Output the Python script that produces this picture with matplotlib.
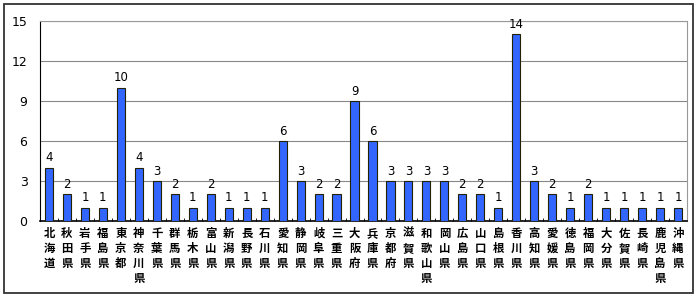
import matplotlib.pyplot as plt
from matplotlib.patches import Rectangle
import numpy as np

plt.rcParams['font.family'] = ['Noto Sans CJK JP', 'DejaVu Sans']

# prefectures and counts
prefectures = ['北海道', '秋田県', '岩手県', '福島県', '東京都', '神奈川県', '千葉県', '群馬県',
               '栃木県', '富山県', '新潟県', '長野県', '石川県', '愛知県', '静岡県', '岐阜県',
               '三重県', '大阪府', '兵庫県', '京都府', '滋賀県', '和歌山県', '岡山県', '広島県',
               '山口県', '島根県', '香川県', '高知県', '愛媛県', '徳島県', '福岡県', '大分県',
               '佐賀県', '長崎県', '鹿児島県', '沖縄県']
counts = [4, 2, 1, 1, 10, 4, 3, 2, 1, 2, 1, 1, 1, 6, 3, 2, 2, 9, 6, 3, 3, 3, 3, 2, 2, 1,
          14, 3, 2, 1, 2, 1, 1, 1, 1, 1]
yticks = [0, 3, 6, 9, 12, 15]

fig = plt.figure(figsize=(7, 2.99), dpi=100)
ax = fig.add_axes([40 / 700, 78 / 299, 647 / 700, 200 / 299])

x = np.arange(len(prefectures))
ax.bar(x, counts, width=0.45, color='#3366ff', edgecolor='#222200', linewidth=0.8, zorder=3)
for xi, v in zip(x, counts):
    ax.text(xi, v + 0.25, str(v), ha='center', va='bottom', fontsize=8.5, family='DejaVu Sans')

ax.set_xlim(-0.5, len(prefectures) - 0.5)
ax.set_ylim(0, 15)
ax.set_yticks(yticks)
ax.set_yticklabels([str(t) for t in yticks], fontsize=9, family='DejaVu Sans')
ax.yaxis.grid(True, color='#888888', linewidth=0.8, zorder=0)

ax.set_xticks(x)
ax.set_xticklabels(['\n'.join(p) for p in prefectures], fontsize=8.2, linespacing=1.2,
                   va='top', fontweight='bold')
ax.tick_params(axis='x', length=0, pad=4)
ax.set_xticks(np.arange(-0.5, len(prefectures), 1), minor=True)
ax.tick_params(axis='x', which='minor', direction='in', length=2.5, color='black')
ax.tick_params(axis='y', length=0, pad=9)

for side in ['top', 'right']:
    ax.spines[side].set_color('#999999')
ax.spines['left'].set_color('black')
ax.spines['bottom'].set_color('black')
ax.spines['bottom'].set_linewidth(1.2)

# outer chart frame
fig.patches.append(Rectangle((4 / 700, 6 / 299), 689 / 700, 289 / 299, transform=fig.transFigure,
                             fill=False, edgecolor='#333333', linewidth=1.3))

fig.savefig('out.png', dpi=100)
